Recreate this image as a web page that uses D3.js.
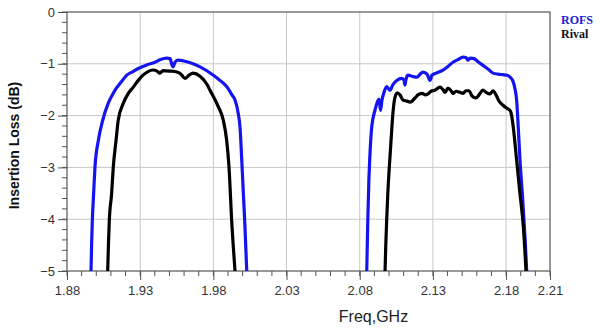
<!DOCTYPE html>
<html>
<head>
<meta charset="utf-8">
<script src="https://cdn.jsdelivr.net/npm/d3@7"></script>
<style>
  body { margin: 0; background: #fff; }
  svg text { font-family: "Liberation Sans", Arial, sans-serif; }
</style>
</head>
<body>
<div id="canvas"></div>
<script>
// ROFS filter, low band
var rofsFreqLow = [1.8964,1.8968,1.8973,1.8982,1.8991,1.9014,1.9044,1.9082,1.9116,1.9135,1.9162,1.9185,1.9208,1.9251,1.9287,1.9347,1.9401,1.9435,1.9483,1.9504,1.9517,1.9524,1.9538,1.9558,1.9606,1.9661,1.9709,1.98,1.9845,1.9891,1.9927,1.9948,1.997,1.9982,1.9994,2.0005,2.0016,2.0028];
var rofsLossLow = [-5,-4.5,-4.03,-3.5,-3,-2.48,-2.09,-1.76,-1.57,-1.48,-1.38,-1.3,-1.22,-1.15,-1.09,-1.02,-0.97,-0.92,-0.89,-0.9,-1.02,-1.06,-0.97,-0.93,-0.95,-1.0,-1.06,-1.22,-1.32,-1.44,-1.6,-1.7,-1.96,-2.22,-2.86,-3.51,-4.15,-5];
// ROFS filter, high band
var rofsFreqHigh = [2.0848,2.0855,2.0863,2.0868,2.0882,2.0904,2.0923,2.0932,2.0942,2.0952,2.0966,2.0984,2.0997,2.1007,2.1027,2.1053,2.1087,2.1103,2.1109,2.1116,2.113,2.1157,2.1191,2.1212,2.1232,2.126,2.128,2.1294,2.1321,2.1369,2.1403,2.1437,2.1471,2.1506,2.1526,2.154,2.1554,2.1581,2.1608,2.1642,2.1676,2.1711,2.1745,2.1779,2.1806,2.1828,2.1849,2.1862,2.1872,2.1883,2.1895,2.1914,2.1929,2.1941];
var rofsLossHigh = [-5,-4.03,-3.2,-2.86,-2.22,-1.9,-1.72,-1.68,-1.9,-1.7,-1.55,-1.44,-1.48,-1.51,-1.4,-1.32,-1.28,-1.32,-1.41,-1.3,-1.22,-1.24,-1.26,-1.2,-1.16,-1.2,-1.32,-1.22,-1.18,-1.12,-1.05,-0.97,-0.92,-0.87,-0.88,-0.93,-0.89,-0.9,-0.96,-1.03,-1.1,-1.18,-1.2,-1.21,-1.22,-1.26,-1.35,-1.5,-1.7,-2.22,-2.86,-3.64,-4.35,-5];
// Rival filter, low band
var rivalFreqLow = [1.9078,1.9083,1.9089,1.9105,1.9116,1.9135,1.915,1.9185,1.9219,1.9253,1.9287,1.9319,1.9353,1.9388,1.9415,1.9435,1.9456,1.9504,1.9552,1.9579,1.9606,1.9634,1.9661,1.9709,1.9757,1.9777,1.9834,1.9868,1.9891,1.9907,1.9925,1.9948];
var rivalLossLow = [-5,-4.5,-4.03,-3.5,-3,-2.48,-2.09,-1.76,-1.57,-1.45,-1.32,-1.22,-1.15,-1.12,-1.14,-1.18,-1.13,-1.14,-1.16,-1.2,-1.28,-1.22,-1.18,-1.24,-1.4,-1.51,-1.83,-2.09,-2.48,-3,-4.02,-5];
// Rival filter, high band
var rivalFreqHigh = [2.0973,2.0978,2.0984,2.0992,2.1002,2.1014,2.1023,2.1034,2.1046,2.1058,2.1075,2.1096,2.1123,2.1144,2.1178,2.1198,2.1226,2.1246,2.1267,2.1287,2.1314,2.1348,2.1369,2.1383,2.1403,2.1424,2.1437,2.1458,2.1485,2.1506,2.1526,2.1547,2.1567,2.1595,2.1615,2.1642,2.1663,2.169,2.1711,2.1731,2.1752,2.1779,2.1806,2.1827,2.1838,2.1849,2.1872,2.1895,2.1918,2.1936];
var rivalLossHigh = [-5,-4.5,-4.03,-3.5,-3,-2.48,-2.09,-1.76,-1.6,-1.56,-1.6,-1.7,-1.72,-1.74,-1.66,-1.6,-1.57,-1.6,-1.58,-1.53,-1.51,-1.45,-1.5,-1.55,-1.47,-1.52,-1.57,-1.53,-1.55,-1.57,-1.52,-1.52,-1.62,-1.66,-1.6,-1.51,-1.55,-1.58,-1.52,-1.6,-1.72,-1.8,-1.86,-1.9,-2.0,-2.22,-2.86,-3.51,-4.15,-5];

var xTicks = [1.88, 1.93, 1.98, 2.03, 2.08, 2.13, 2.18, 2.21];
var yTicks = [0, -1, -2, -3, -4, -5];
var seriesNames = ["ROFS", "Rival"];
var seriesColors = ["#1414f0", "#000000"];

var W = 600, H = 330;
var margin = {top: 12, right: 50, bottom: 59, left: 67};
var width = W - margin.left - margin.right,
    height = H - margin.top - margin.bottom;

var svg = d3.select("#canvas").append("svg")
    .attr("width", W)
    .attr("height", H)
  .append("g")
    .attr("transform", "translate(" + margin.left + "," + margin.top + ")");

var x = d3.scaleLinear().domain([1.88, 2.21]).range([0, width]);
var y = d3.scaleLinear().domain([-5, 0]).range([height, 0]);

// grid
svg.selectAll(".vgrid").data(xTicks.slice(1, -1)).enter().append("line")
  .attr("x1", function(d) { return x(d); }).attr("x2", function(d) { return x(d); })
  .attr("y1", 0).attr("y2", height)
  .attr("stroke", "#c8c8c8").attr("stroke-width", 1);
svg.selectAll(".hgrid").data(yTicks.slice(1, -1)).enter().append("line")
  .attr("y1", function(d) { return y(d); }).attr("y2", function(d) { return y(d); })
  .attr("x1", 0).attr("x2", width)
  .attr("stroke", "#c8c8c8").attr("stroke-width", 1);

// minor ticks
var xMinor = d3.range(188, 222).map(function(d) { return d / 100; });
svg.selectAll(".xminor").data(xMinor).enter().append("line")
  .attr("x1", function(d) { return x(d); }).attr("x2", function(d) { return x(d); })
  .attr("y1", height).attr("y2", height + 5)
  .attr("stroke", "#555");
var yMinor = d3.range(-25, 1).map(function(d) { return d / 5; });
svg.selectAll(".yminor").data(yMinor).enter().append("line")
  .attr("y1", function(d) { return y(d); }).attr("y2", function(d) { return y(d); })
  .attr("x1", -5).attr("x2", 0)
  .attr("stroke", "#555");

// axes
var xAxis = svg.append("g")
  .attr("transform", "translate(0," + height + ")")
  .call(d3.axisBottom(x).tickValues(xTicks).tickSize(9).tickPadding(6)
    .tickFormat(d3.format(".2f")));
var yAxis = svg.append("g")
  .call(d3.axisLeft(y).tickValues(yTicks).tickSize(9).tickPadding(3)
    .tickFormat(d3.format("d")));
[xAxis, yAxis].forEach(function(a) {
  a.select(".domain").remove();
  a.selectAll("line").attr("stroke", "#555");
  a.selectAll("text").attr("fill", "#333").style("font-size", "13px");
});

// frame
svg.append("rect")
  .attr("width", width).attr("height", height)
  .attr("fill", "none").attr("stroke", "#555").attr("stroke-width", 1.2);

// curves
svg.append("clipPath").attr("id", "clip")
  .append("rect").attr("width", width).attr("height", height + 2).attr("y", -2);

var line = d3.line()
  .curve(d3.curveMonotoneX)
  .x(function(d) { return x(d[0]); })
  .y(function(d) { return y(d[1]); });

var curves = [
  [rofsFreqLow, rofsLossLow, 0],
  [rofsFreqHigh, rofsLossHigh, 0],
  [rivalFreqLow, rivalLossLow, 1],
  [rivalFreqHigh, rivalLossHigh, 1]
];
curves.forEach(function(c) {
  svg.append("path")
    .datum(d3.zip(c[0], c[1]))
    .attr("clip-path", "url(#clip)")
    .attr("fill", "none")
    .attr("stroke", seriesColors[c[2]])
    .attr("stroke-width", 3.2)
    .attr("stroke-linejoin", "round")
    .attr("d", line);
});

// axis titles
svg.append("text")
  .attr("transform", "translate(" + (-48) + "," + (height / 2 + 4) + ") rotate(-90)")
  .attr("text-anchor", "middle")
  .style("font-size", "14px").style("font-weight", "bold")
  .attr("fill", "#111")
  .text("Insertion Loss (dB)");
svg.append("text")
  .attr("x", width / 2 + 65).attr("y", height + 51)
  .attr("text-anchor", "middle")
  .style("font-size", "16px")
  .attr("fill", "#222")
  .text("Freq,GHz");

// legend
seriesNames.forEach(function(name, i) {
  svg.append("text")
    .attr("x", width + 11).attr("y", 12 + i * 14)
    .style("font-family", "'Liberation Serif', 'DejaVu Serif', serif")
    .style("font-size", "12px").style("font-weight", "bold")
    .attr("fill", seriesColors[i] === "#000000" ? "#111" : "#2020d0")
    .text(name);
});
</script>
</body>
</html>
